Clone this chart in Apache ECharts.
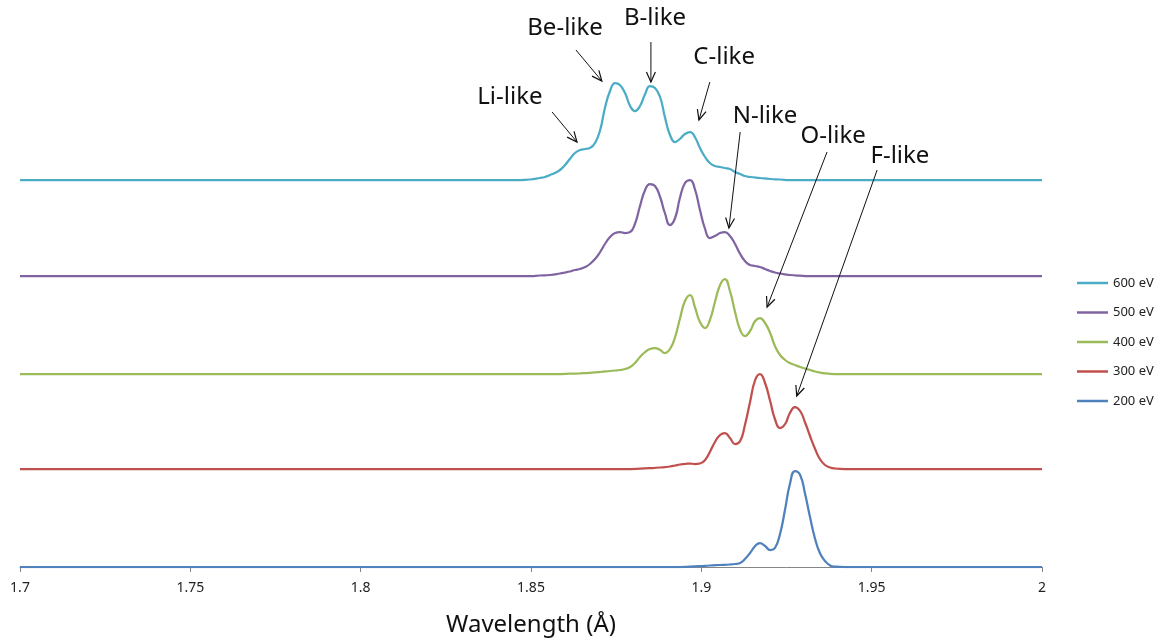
<!DOCTYPE html>
<html><head><meta charset="utf-8">
<script src="https://cdn.jsdelivr.net/npm/echarts/dist/echarts.min.js"></script>
<style>html,body{margin:0;padding:0;background:#fff}#c{width:1161px;height:642px}</style>
</head><body><div id="c"></div>
<script>
// ---- data (wavelength in Å, intensity in arbitrary units) ----
const seriesNames = ['200 eV', '300 eV', '400 eV', '500 eV', '600 eV'];
const offsets = [0, 98, 193, 291, 387]; // vertical offsets of the stacked spectra

const wl200 = [1.7, 1.8937, 1.8967, 1.8996, 1.9025, 1.9055, 1.9084, 1.9099, 1.9114, 1.9128, 1.9143, 1.9158, 1.9172, 1.9187, 1.9202, 1.9216, 1.9231, 1.9246, 1.9260, 1.9275, 1.9290, 1.9304, 1.9319, 1.9334, 1.9348, 1.9363, 1.9378, 1.9392, 1.9422, 2.0];
const in200 = [0, 0, 0.3, 0.8, 1.5, 2, 2.5, 3, 4, 8, 14, 21, 24, 21, 17, 19, 33, 58, 83, 96, 92, 74, 50, 28, 14, 6, 1.5, 0.3, 0, 0];

const wl300 = [1.7, 1.8791, 1.8820, 1.8849, 1.8879, 1.8908, 1.8923, 1.8937, 1.8952, 1.8967, 1.8981, 1.8996, 1.9011, 1.9025, 1.9040, 1.9055, 1.9069, 1.9084, 1.9099, 1.9114, 1.9128, 1.9143, 1.9158, 1.9172, 1.9187, 1.9202, 1.9216, 1.9231, 1.9246, 1.9260, 1.9275, 1.9290, 1.9304, 1.9319, 1.9334, 1.9348, 1.9363, 1.9378, 1.9392, 1.9422, 2.0];
const in300 = [0, 0, 0.3, 0.8, 1.5, 2.5, 3.5, 4.5, 5, 5.5, 5, 5.5, 9, 17, 27, 34, 36, 31, 25, 28, 44, 67, 89, 95, 86, 68, 50, 41, 45, 56, 62, 58, 47, 33, 20, 10, 4, 1.5, 0.5, 0, 0];

const wl400 = [1.7, 1.8585, 1.8614, 1.8644, 1.8673, 1.8703, 1.8732, 1.8747, 1.8761, 1.8776, 1.8791, 1.8805, 1.8820, 1.8835, 1.8849, 1.8864, 1.8879, 1.8893, 1.8908, 1.8923, 1.8937, 1.8952, 1.8967, 1.8981, 1.8996, 1.9011, 1.9025, 1.9040, 1.9055, 1.9069, 1.9084, 1.9099, 1.9114, 1.9128, 1.9143, 1.9158, 1.9172, 1.9187, 1.9202, 1.9216, 1.9231, 1.9246, 1.9260, 1.9275, 1.9290, 1.9304, 1.9319, 1.9334, 1.9348, 1.9363, 1.9378, 1.9407, 2.0];
const in400 = [0, 0, 0.3, 0.7, 1.2, 2, 3, 3.5, 4, 5, 7, 11, 17, 22, 25, 26, 24, 21, 25, 37, 55, 73, 79, 67, 52, 46, 54, 72, 89, 95, 83, 62, 44, 38, 43, 53, 56, 51, 41, 28, 19, 14, 11, 9, 7, 5.5, 4, 2.5, 1.5, 0.7, 0.2, 0, 0];

const wl500 = [1.7, 1.8468, 1.8497, 1.8526, 1.8556, 1.8585, 1.8600, 1.8614, 1.8629, 1.8644, 1.8659, 1.8673, 1.8688, 1.8703, 1.8717, 1.8732, 1.8747, 1.8761, 1.8776, 1.8791, 1.8805, 1.8820, 1.8835, 1.8849, 1.8864, 1.8879, 1.8893, 1.8908, 1.8923, 1.8937, 1.8952, 1.8967, 1.8981, 1.8996, 1.9011, 1.9025, 1.9040, 1.9055, 1.9069, 1.9084, 1.9099, 1.9114, 1.9128, 1.9143, 1.9158, 1.9172, 1.9187, 1.9202, 1.9216, 1.9231, 1.9260, 1.9290, 1.9319, 2.0];
const in500 = [0, 0, 0, 0.5, 1, 2.5, 3.5, 4.5, 6, 7, 9, 12, 17, 24, 32, 39, 43, 44, 43, 44, 52, 70, 86, 92, 90, 79, 63, 51, 58, 78, 93, 96, 87, 66, 47, 38, 40, 43, 44, 40, 32, 22, 15, 11, 10, 9, 7, 5, 3.5, 2.5, 1, 0.3, 0, 0];

const wl600 = [1.7, 1.8468, 1.8497, 1.8526, 1.8541, 1.8556, 1.8570, 1.8585, 1.8600, 1.8614, 1.8629, 1.8644, 1.8659, 1.8673, 1.8688, 1.8703, 1.8717, 1.8732, 1.8747, 1.8761, 1.8776, 1.8791, 1.8805, 1.8820, 1.8835, 1.8849, 1.8864, 1.8879, 1.8893, 1.8908, 1.8923, 1.8937, 1.8952, 1.8967, 1.8981, 1.8996, 1.9011, 1.9025, 1.9040, 1.9055, 1.9069, 1.9084, 1.9099, 1.9114, 1.9128, 1.9143, 1.9172, 1.9202, 1.9231, 1.9260, 2.0];
const in600 = [0, 0, 0.5, 2, 3, 5, 7, 10, 15, 21, 27, 30, 31, 32, 37, 50, 72, 89, 97, 95, 87, 74, 69, 74, 86, 94, 92, 83, 63, 45, 38, 41, 46, 48, 43, 32, 23, 17, 14, 13, 12, 11, 8, 6, 4, 3, 2, 1, 0.5, 0, 0];

const xTicks = [1.7, 1.75, 1.8, 1.85, 1.9, 1.95, 2.0];

// annotation labels: [wavelength, level]
const annLabels = ['Li-like', 'Be-like', 'B-like', 'C-like', 'N-like', 'O-like', 'F-like'];
const annLabelX = [1.8438, 1.8600, 1.8864, 1.9067, 1.9187, 1.9387, 1.9583];
const annLabelY = [470, 539, 549, 510, 451, 431, 411];
// arrows: start (x1,y1) -> head (x2,y2)
const arrX1 = [1.8562, 1.8632, 1.8852, 1.9025, 1.9114, 1.9369, 1.9516];
const arrY1 = [455, 517, 525, 485, 435, 415, 397];
const arrX2 = [1.8635, 1.8708, 1.8852, 1.8993, 1.9081, 1.9193, 1.9280];
const arrY2 = [425, 486, 485, 447, 339, 260, 171];

const wls = [wl200, wl300, wl400, wl500, wl600];
const ins = [in200, in300, in400, in500, in600];
const colors = ['#4F81BD', '#C0504D', '#9BBB59', '#8064A2', '#4BACC6'];

const chart = echarts.init(document.getElementById('c'));
const lineSeries = seriesNames.map((n, i) => ({
  name: n, type: 'line', smooth: 0.5, symbol: 'none', showSymbol: false,
  color: colors[i],
  lineStyle: { width: 2.25, color: colors[i] },
  data: wls[i].map((w, j) => [w, offsets[i] + ins[i][j]]),
  z: 3
}));

const FONT = "'Noto Sans', 'DejaVu Sans', sans-serif";

chart.setOption({
  animation: false,
  backgroundColor: '#fff',
  grid: { left: 20, right: 119, top: 17, bottom: 75, containLabel: false, outerBoundsMode: 'none' },
  legend: {
    orient: 'vertical', left: 1072, top: 271,
    data: ['600 eV', '500 eV', '400 eV', '300 eV', '200 eV'],
    icon: 'rect', itemWidth: 31, itemHeight: 2.5, itemGap: 15.5,
    textStyle: { fontFamily: FONT, fontSize: 13, color: '#222', lineHeight: 14 }
  },
  xAxis: {
    type: 'value', min: 1.7, max: 2.0, interval: 0.05,
    name: 'Wavelength (Å)', nameLocation: 'middle', nameGap: 46,
    nameTextStyle: { fontFamily: FONT, fontSize: 24, color: '#111' },
    axisLine: { show: true, lineStyle: { color: '#868686', width: 1 } },
    axisTick: { show: true, length: 5, lineStyle: { color: '#868686' } },
    splitLine: { show: false },
    axisLabel: {
      fontFamily: FONT, fontSize: 14, color: '#222', margin: 14,
      formatter: v => String(+v.toFixed(2))
    }
  },
  yAxis: { type: 'value', min: 0, max: 550, show: false, splitLine: { show: false } },
  series: lineSeries.concat([
    {
      type: 'custom', name: 'arrows', z: 10, clip: false, silent: true,
      encode: { x: [0, 2], y: [1, 3] },
      data: arrX1.map((x, i) => [x, arrY1[i], arrX2[i], arrY2[i]]),
      renderItem: (params, api) => {
        const p1 = api.coord([api.value(0), api.value(1)]);
        const p2 = api.coord([api.value(2), api.value(3)]);
        const ang = Math.atan2(p2[1] - p1[1], p2[0] - p1[0]);
        const L = 11, A = Math.PI / 7.5;
        const h1 = [p2[0] - L * Math.cos(ang - A), p2[1] - L * Math.sin(ang - A)];
        const h2 = [p2[0] - L * Math.cos(ang + A), p2[1] - L * Math.sin(ang + A)];
        return {
          type: 'group', children: [
            { type: 'line', shape: { x1: p1[0], y1: p1[1], x2: p2[0], y2: p2[1] }, style: { stroke: '#111', lineWidth: 1 } },
            { type: 'polyline', shape: { points: [h1, p2, h2] }, style: { stroke: '#111', lineWidth: 1.2, fill: null } }
          ]
        };
      }
    },
    {
      type: 'custom', name: 'labels', z: 11, clip: false, silent: true,
      encode: { x: 0, y: 1 },
      data: annLabelX.map((x, i) => [x, annLabelY[i]]),
      renderItem: (params, api) => {
        const p = api.coord([api.value(0), api.value(1)]);
        return {
          type: 'text', x: p[0], y: p[1],
          style: { text: annLabels[params.dataIndex], fill: '#111', font: '24px ' + FONT, align: 'center', verticalAlign: 'middle' }
        };
      }
    }
  ])
});
</script>
</body></html>
